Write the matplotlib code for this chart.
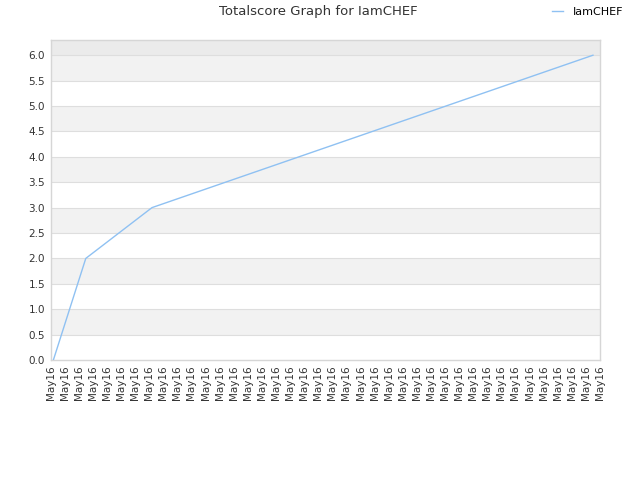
import matplotlib
matplotlib.use('Agg')
import matplotlib.pyplot as plt

# data
x_vals = [0.2, 2.5, 7.2, 38.5]
scores = [0, 2, 3, 6]
tick_labels = ['May16'] * 40
y_ticks = [0.0, 0.5, 1.0, 1.5, 2.0, 2.5, 3.0, 3.5, 4.0, 4.5, 5.0, 5.5, 6.0]

fig = plt.figure(figsize=(6.4, 4.8), dpi=100)
ax = fig.add_axes([0.079, 0.25, 0.8585, 0.6667])

ymax = 6.3
ax.set_ylim(0, ymax)
ax.set_xlim(0, 39)

# alternating bands
for i in range(len(y_ticks) - 1):
    if i % 2 == 1:
        ax.axhspan(y_ticks[i], y_ticks[i + 1], color='#f2f2f2', lw=0, zorder=0)
ax.axhspan(y_ticks[-1], ymax, color='#ebebeb', lw=0, zorder=0)
for y in y_ticks[1:]:
    ax.axhline(y, color='#dedede', lw=0.8, zorder=1)

ax.plot(x_vals, scores, color='#8fc1f2', lw=1, label='IamCHEF', zorder=3)

ax.set_yticks(y_ticks)
ax.set_yticklabels(['%.1f' % v for v in y_ticks])
ax.set_xticks(range(len(tick_labels)))
ax.set_xticklabels(tick_labels, rotation=90)
ax.tick_params(length=0, labelsize=7.5, labelcolor='#333333', pad=4)

for s in ax.spines.values():
    s.set_color('#d6d6d6')
    s.set_linewidth(1)

fig.suptitle('Totalscore Graph for IamCHEF', x=0.498, y=0.99, fontsize=9.5, color='#333333')
fig.legend(loc='upper right', bbox_to_anchor=(0.99, 1.006), frameon=False,
           fontsize=8, handlelength=1.0, handletextpad=0.9)

plt.savefig('out.png')
plt.close()
